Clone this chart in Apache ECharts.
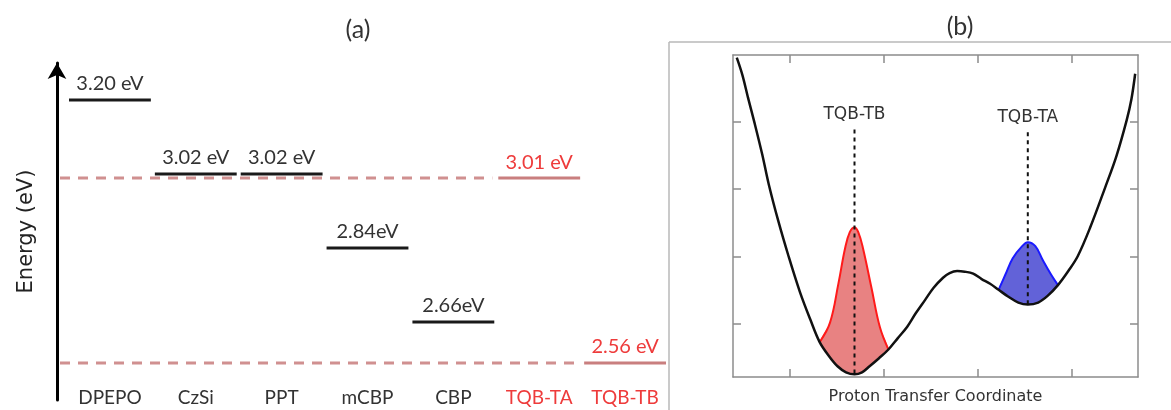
<!DOCTYPE html>
<html>
<head>
<meta charset="utf-8">
<script src="https://cdn.jsdelivr.net/npm/echarts@6/dist/echarts.min.js"></script>
<style>
  html, body { margin: 0; padding: 0; background: #fff; }
  #chart { width: 1171px; height: 410px; }
</style>
</head>
<body>
<div id="chart"></div>
<script>
// ---- Panel (a): triplet energy levels of hosts and the two TQB tautomers ----
const hosts = ['DPEPO', 'CzSi', 'PPT', 'mCBP', 'CBP', 'TQB-TA', 'TQB-TB'];
const tripletEV = [3.20, 3.02, 3.02, 2.84, 2.66, 3.01, 2.56];
const unitSep = [' ', ' ', ' ', '', '', ' ', ' '];
const tautomers = ['TQB-TA', 'TQB-TB'];

// ---- Panel (b): potential energy along the proton transfer coordinate ----
const potential = [
  [-0.56, 3.96], [-0.50, 3.70], [-0.44, 3.36], [-0.37, 2.98], [-0.29, 2.52],
  [-0.22, 2.07], [-0.12, 1.53], [-0.01, 1.00], [0.11, 0.47], [0.22, 0.06],
  [0.32, -0.28], [0.42, -0.49], [0.51, -0.64], [0.60, -0.73], [0.69, -0.76],
  [0.77, -0.73], [0.85, -0.64], [0.95, -0.52], [1.05, -0.39], [1.15, -0.22],
  [1.25, -0.05], [1.34, 0.15], [1.44, 0.35], [1.53, 0.53], [1.63, 0.68],
  [1.70, 0.75], [1.78, 0.78], [1.86, 0.77], [1.95, 0.74], [2.04, 0.66],
  [2.13, 0.59], [2.22, 0.50], [2.32, 0.40], [2.43, 0.31], [2.53, 0.28],
  [2.64, 0.31], [2.74, 0.41], [2.85, 0.57], [2.96, 0.78], [3.06, 1.00],
  [3.19, 1.42], [3.35, 2.02], [3.47, 2.49], [3.58, 3.03], [3.63, 3.34],
  [3.67, 3.72]
];
const tbPacket = [
  [0.32, -0.28], [0.43, 0.01], [0.52, 0.60], [0.59, 1.12], [0.64, 1.36],
  [0.69, 1.43], [0.73, 1.36], [0.78, 1.12], [0.87, 0.53], [0.96, -0.06],
  [1.05, -0.39]
];
const taPacket = [
  [2.22, 0.50], [2.29, 0.72], [2.37, 0.97], [2.47, 1.15], [2.53, 1.21],
  [2.61, 1.15], [2.69, 0.94], [2.78, 0.72], [2.85, 0.57]
];
const wellLabels = ['TQB-TB', 'TQB-TA'];
const wellCenterX = [0.69, 2.53];
const wellBottomY = [-0.76, 0.28];
const guideTopY = [2.89, 2.85];
const frameTicks = [0, 1, 2, 3];

const RED_TEXT = '#ee3b3b';
const TAUT_BAR = '#c97f7f';
const TAUT_DASH = '#d09090';
const FONT_A = 'Lato, "Open Sans", sans-serif';
const FONT_B = '"DejaVu Sans", sans-serif';
const FRAME = '#8c8c8c';

const chart = echarts.init(document.getElementById('chart'), null, { renderer: 'canvas' });

function levelItem(params, api) {
  const i = params.dataIndex;
  const c = api.coord([api.value(0), api.value(1)]);
  const band = api.size([1, 0])[0];
  const x0 = c[0] - band / 2 + 2;
  const x1 = c[0] + band / 2 - 2;
  const isT = tautomers.indexOf(hosts[i]) >= 0;
  const children = [];
  if (isT) {
    children.push({
      type: 'line',
      shape: { x1: params.coordSys.x - 7, y1: c[1], x2: x0 - 6, y2: c[1] },
      style: { stroke: TAUT_DASH, lineWidth: 3, lineDash: [10, 8] }
    });
  }
  children.push({
    type: 'line',
    shape: { x1: x0, y1: c[1], x2: x1, y2: c[1] },
    style: { stroke: isT ? TAUT_BAR : '#1a1a1a', lineWidth: 3 }
  });
  children.push({
    type: 'text',
    style: {
      text: tripletEV[i].toFixed(2) + unitSep[i] + 'eV',
      x: c[0], y: c[1] - 6,
      align: 'center', verticalAlign: 'bottom',
      fill: isT ? RED_TEXT : '#333',
      fontSize: 20, fontFamily: FONT_A
    }
  });
  return { type: 'group', children: children };
}

function packetFill(top, color) {
  return {
    type: 'custom',
    xAxisIndex: 1, yAxisIndex: 1,
    z: 2, silent: true,
    data: [top[0]],
    renderItem: function (params, api) {
      const xa = top[0][0];
      const xb = top[top.length - 1][0];
      const base = potential.filter(function (p) { return p[0] > xa && p[0] < xb; }).reverse();
      const pts = top.concat(base).map(function (p) { return api.coord(p); });
      return { type: 'polygon', shape: { points: pts, smooth: 0.2 }, style: { fill: color } };
    }
  };
}

function packetLine(top, color) {
  return {
    type: 'line', xAxisIndex: 1, yAxisIndex: 1, z: 3,
    data: top, smooth: 0.4, showSymbol: false, silent: true,
    lineStyle: { color: color, width: 2 }
  };
}

const guideSeries = wellLabels.map(function (name, k) {
  return {
    type: 'line', xAxisIndex: 1, yAxisIndex: 1, z: 5, silent: true,
    data: [[wellCenterX[k], guideTopY[k]], [wellCenterX[k], wellBottomY[k]]],
    showSymbol: true, symbolSize: 0.01,
    lineStyle: { color: '#111', width: 2, type: [4, 4] },
    label: {
      show: true, position: 'top', distance: 5,
      formatter: function (p) { return p.dataIndex === 0 ? name : ''; },
      color: '#333', fontSize: 17, fontFamily: FONT_B
    }
  };
});

const frameTickStyle = { show: true, inside: true, length: 8, customValues: frameTicks, lineStyle: { color: FRAME, width: 1.5 } };

const option = {
  animation: false,
  backgroundColor: '#fff',
  graphic: [
    { type: 'text', style: { text: '(a)', x: 358, y: 30, align: 'center', verticalAlign: 'middle', fontSize: 25, fontFamily: FONT_A, fill: '#333' } },
    { type: 'text', style: { text: '(b)', x: 960, y: 27, align: 'center', verticalAlign: 'middle', fontSize: 25, fontFamily: FONT_A, fill: '#333' } },
    { type: 'line', shape: { x1: 669, y1: 42, x2: 1171, y2: 42 }, style: { stroke: '#b8b8b8', lineWidth: 1.5 } },
    { type: 'line', shape: { x1: 669, y1: 42, x2: 669, y2: 410 }, style: { stroke: '#b8b8b8', lineWidth: 1.5 } }
  ],
  grid: [
    { left: 67, top: 63, width: 601, height: 337 },
    { left: 733, top: 55, width: 405, height: 325 }
  ],
  xAxis: [
    {
      gridIndex: 0, type: 'category', data: hosts,
      axisLine: { show: false }, axisTick: { show: false }, splitLine: { show: false },
      axisLabel: {
        interval: 0, margin: -12, fontSize: 19, fontFamily: FONT_A,
        color: function (v) { return tautomers.indexOf(v) >= 0 ? RED_TEXT : '#333'; }
      }
    },
    {
      gridIndex: 1, type: 'value', min: -0.6, max: 3.7,
      axisLine: { show: true, onZero: false, lineStyle: { color: FRAME, width: 1.5 } },
      axisTick: frameTickStyle, axisLabel: { show: false }, splitLine: { show: false },
      name: 'Proton Transfer Coordinate', nameLocation: 'middle', nameGap: 12,
      nameTextStyle: { fontSize: 16, fontFamily: FONT_B, color: '#333', verticalAlign: 'top' }
    },
    {
      gridIndex: 1, type: 'value', min: -0.6, max: 3.7, position: 'top',
      axisLine: { show: true, onZero: false, lineStyle: { color: FRAME, width: 1.5 } },
      axisTick: frameTickStyle, axisLabel: { show: false }, splitLine: { show: false }
    }
  ],
  yAxis: [
    {
      gridIndex: 0, type: 'value', min: 2.47, max: 3.29, offset: 10,
      axisLine: {
        show: true, onZero: false,
        lineStyle: { color: '#000', width: 3 },
        symbol: ['none', 'arrow'], symbolSize: [14, 16], symbolOffset: [0, 0]
      },
      axisTick: { show: false }, axisLabel: { show: false }, splitLine: { show: false },
      name: 'Energy (eV)', nameLocation: 'middle', nameRotate: 90, nameGap: 20,
      nameTextStyle: { fontSize: 21, fontFamily: '"DejaVu Sans", sans-serif', color: '#222' }
    },
    {
      gridIndex: 1, type: 'value', min: -0.8, max: 4.0,
      axisLine: { show: true, onZero: false, lineStyle: { color: FRAME, width: 1.5 } },
      axisTick: frameTickStyle, axisLabel: { show: false }, splitLine: { show: false }
    },
    {
      gridIndex: 1, type: 'value', min: -0.8, max: 4.0, position: 'right',
      axisLine: { show: true, onZero: false, lineStyle: { color: FRAME, width: 1.5 } },
      axisTick: frameTickStyle, axisLabel: { show: false }, splitLine: { show: false }
    }
  ],
  series: [
    {
      type: 'custom', xAxisIndex: 0, yAxisIndex: 0, silent: true,
      data: hosts.map(function (h, i) { return [i, tripletEV[i]]; }),
      renderItem: levelItem
    },
    packetFill(tbPacket, '#e88282'),
    packetFill(taPacket, '#6262d8'),
    packetLine(tbPacket, '#ff1a1a'),
    packetLine(taPacket, '#1a1aff'),
    {
      type: 'line', xAxisIndex: 1, yAxisIndex: 1, z: 4, silent: true,
      data: potential, smooth: 0.35, showSymbol: false,
      lineStyle: { color: '#111', width: 2.5 }
    }
  ].concat(guideSeries)
};

chart.setOption(option);
</script>
</body>
</html>
